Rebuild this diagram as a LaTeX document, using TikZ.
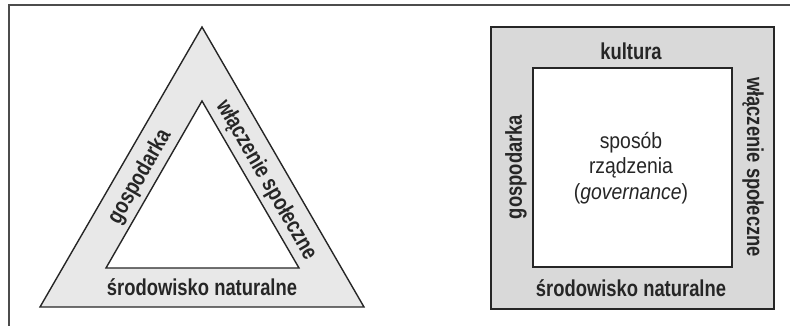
\documentclass[tikz,border=0pt]{standalone}
\usepackage{fontspec}
\setmainfont{Liberation Sans}
\newfontfamily\sidefont[FakeStretch=0.8]{Liberation Sans}
\newfontfamily\corefont[FakeStretch=0.88]{Liberation Sans}
\usetikzlibrary{positioning}
\definecolor{triFill}{gray}{0.91}
\definecolor{boxFill}{gray}{0.85}
\definecolor{frameGray}{gray}{0.3}
\definecolor{edgeGray}{gray}{0.15}

\begin{document}
\begin{tikzpicture}[x=1pt,y=-1pt]

    \tikzstyle{side}=[font=\sidefont\fontsize{23}{26}\selectfont\bfseries, inner sep=0pt, text=black!85]
    \tikzstyle{core}=[font=\corefont\fontsize{22}{25.5}\selectfont, align=center, inner sep=0pt, text=black!85]
    \tikzstyle{outline}=[draw=edgeGray, line width=1.4pt]

    \useasboundingbox (0,0) rectangle (790,326);

    % Frame (top and left only)
    \draw[frameGray, line width=2pt] (9,326) -- (9,5.5) -- (790,5.5);

    % Triangle
    \coordinate (TA) at (202,27);
    \coordinate (TL) at (40,307);
    \coordinate (TR) at (364,307);
    \coordinate (IA) at (202,101);
    \coordinate (IL) at (106,268);
    \coordinate (IR) at (299,268);
    \filldraw[outline, fill=triFill] (TA) -- (TR) -- (TL) -- cycle;
    \filldraw[outline, fill=white] (IA) -- (IR) -- (IL) -- cycle;

    \node at (140,177) [side, rotate=60]  (TGos) {gospodarka};
    \node at (266,180) [side, rotate=-60] (TWla) {włączenie społeczne};
    \node at (202,287) [side]             (TSro) {środowisko naturalne};

    % Square
    \coordinate (SO1) at (491,27);
    \coordinate (SO2) at (774,309);
    \coordinate (SI1) at (533,68);
    \coordinate (SI2) at (732,267);
    \filldraw[outline, fill=boxFill] (SO1) rectangle (SO2);
    \filldraw[outline, fill=white] (SI1) rectangle (SI2);

    \node at (631,51)  [side]             (SKul) {kultura};
    \node at (516,167) [side, rotate=90]  (SGos) {gospodarka};
    \node at (753,167) [side, rotate=-90] (SWla) {włączenie społeczne};
    \node at (631,288) [side]             (SSro) {środowisko naturalne};
    \node at (631,168) [core]             (SGov) {sposób\\rządzenia\\(\textit{governance})};

\end{tikzpicture}
\end{document}
